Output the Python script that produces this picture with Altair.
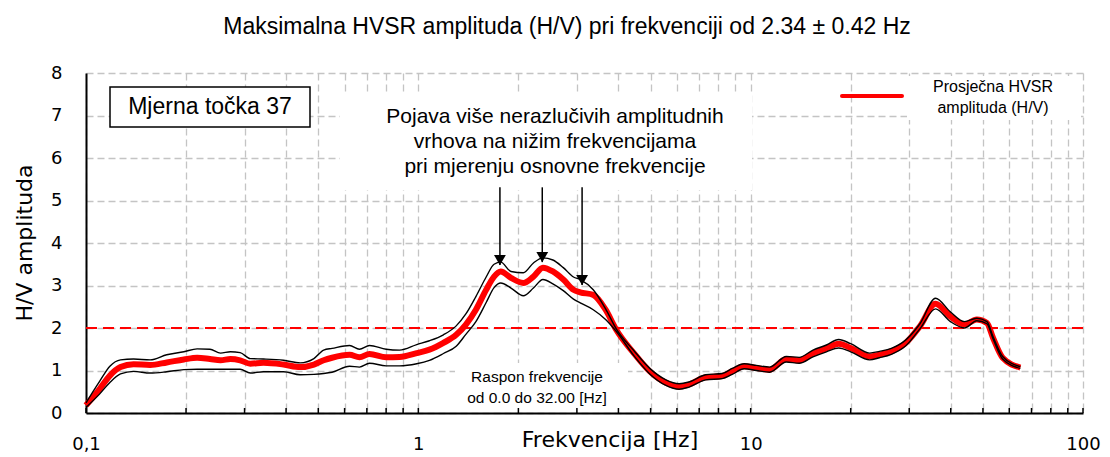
import altair as alt
import pandas as pd

# ---------------- data ----------------
freq = [0.100, 0.110, 0.118, 0.127, 0.139, 0.156, 0.175, 0.197, 0.216, 0.236,
        0.254, 0.272, 0.291, 0.312, 0.342, 0.393, 0.441, 0.485, 0.519, 0.550,
        0.621, 0.665, 0.713, 0.800, 0.878, 0.989, 1.08, 1.19, 1.30, 1.39,
        1.49, 1.60, 1.69, 1.77, 1.90, 2.07, 2.22, 2.37, 2.54, 2.73,
        2.93, 3.07, 3.36, 3.66, 3.94, 4.45, 4.97, 5.56, 6.09, 6.52,
        7.32, 8.21, 8.80, 9.56, 10.4, 11.4, 12.8, 14.0, 15.4, 16.9,
        18.4, 20.0, 22.8, 24.4, 26.5, 29.3, 32.3, 36.0, 39.9, 44.0,
        47.9, 51.4, 53.6, 57.3, 64.8]

mean_hv = [0.18, 0.57, 0.88, 1.08, 1.15, 1.13, 1.19, 1.26, 1.30, 1.27,
           1.24, 1.27, 1.24, 1.16, 1.18, 1.14, 1.08, 1.14, 1.24, 1.30,
           1.37, 1.31, 1.39, 1.31, 1.32, 1.41, 1.49, 1.65, 1.84, 2.08,
           2.43, 2.90, 3.21, 3.33, 3.18, 3.06, 3.21, 3.42, 3.33, 3.14,
           2.90, 2.84, 2.78, 2.43, 1.96, 1.41, 0.98, 0.71, 0.62, 0.67,
           0.84, 0.87, 0.98, 1.10, 1.06, 1.02, 1.27, 1.24, 1.40, 1.52,
           1.63, 1.53, 1.33, 1.37, 1.45, 1.65, 2.04, 2.57, 2.27, 2.08,
           2.20, 2.12, 1.77, 1.30, 1.07]

upper_hv = [0.24, 0.75, 1.10, 1.25, 1.27, 1.25, 1.37, 1.44, 1.51, 1.50,
            1.41, 1.44, 1.42, 1.28, 1.27, 1.24, 1.18, 1.28, 1.48, 1.52,
            1.59, 1.50, 1.59, 1.50, 1.48, 1.61, 1.70, 1.84, 2.05, 2.33,
            2.74, 3.20, 3.50, 3.55, 3.33, 3.30, 3.53, 3.65, 3.60, 3.42,
            3.20, 3.14, 2.90, 2.45, 1.98, 1.47, 1.05, 0.78, 0.69, 0.73,
            0.90, 0.93, 1.05, 1.16, 1.12, 1.08, 1.33, 1.31, 1.48, 1.60,
            1.73, 1.63, 1.41, 1.45, 1.52, 1.72, 2.10, 2.70, 2.38, 2.15,
            2.23, 2.15, 1.80, 1.33, 1.09]

lower_hv = [0.13, 0.45, 0.72, 0.92, 0.98, 0.94, 0.97, 1.02, 1.03, 1.03,
            1.03, 1.03, 1.03, 0.94, 0.97, 0.97, 0.90, 0.91, 0.93, 0.96,
            1.10, 1.08, 1.17, 1.11, 1.11, 1.16, 1.24, 1.40, 1.57, 1.85,
            2.15, 2.60, 2.95, 3.06, 2.94, 2.76, 2.94, 3.14, 3.04, 2.88,
            2.68, 2.59, 2.43, 2.20, 1.92, 1.35, 0.92, 0.65, 0.56, 0.61,
            0.78, 0.81, 0.91, 1.04, 1.00, 0.96, 1.20, 1.17, 1.32, 1.44,
            1.53, 1.44, 1.25, 1.30, 1.38, 1.58, 1.98, 2.45, 2.15, 2.00,
            2.17, 2.10, 1.75, 1.27, 1.05]

grid_freqs = [0.1, 0.2, 0.3, 0.4, 0.5, 0.6, 0.7, 0.8, 0.9,
              1, 2, 3, 4, 5, 6, 7, 8, 9,
              10, 20, 30, 40, 50, 60, 70, 80, 90, 100]
y_ticks = [0, 1, 2, 3, 4, 5, 6, 7, 8]

threshold = [2.0]
arrow_freq = [1.76, 2.36, 3.11]
arrow_tip = [3.48, 3.55, 3.01]
arrow_top = [5.31, 5.31, 5.31]

title_text = "Maksimalna HVSR amplituda (H/V) pri frekvenciji od 2.34 \u00b1 0.42 Hz"
x_title = "Frekvencija [Hz]"
y_title = "H/V amplituda"
box_text = "Mjerna to\u010dka 37"
note_lines = ["Pojava vi\u0161e nerazlu\u010divih amplitudnih",
              "vrhova na ni\u017eim frekvencijama",
              "pri mjerenju osnovne frekvencije"]
range_lines = ["Raspon frekvencije", "od 0.0 do 32.00 [Hz]"]
legend_lines = ["Prosje\u010dna HVSR", "amplituda (H/V)"]

# ---------------- chart ----------------
W, H = 997, 340
ARIAL = "Liberation Sans"
AXF = "DejaVu Sans"

xs = alt.Scale(type="log", domain=[0.1, 100], nice=False)
ys = alt.Scale(domain=[0, 8], nice=False)

x_axis = alt.Axis(values=grid_freqs, grid=True, gridDash=[7, 4], gridColor="#c4c4c4",
                  gridWidth=1.3, ticks=False, domainColor="black", domainWidth=2,
                  labelExpr="datum.value < 0.15 ? '0,1' : (indexof([1, 10, 100], datum.value) >= 0 ? format(datum.value, 'd') : '')",
                  labelFont=AXF, labelFontSize=18, labelColor="black", labelPadding=22,
                  labelFlush=False, labelOverlap=False, title=None)
y_axis = alt.Axis(values=y_ticks, grid=True, gridDash=[7, 4], gridColor="#c4c4c4",
                  gridWidth=1.3, ticks=False, domainColor="black", domainWidth=2,
                  labelFont=AXF, labelFontSize=18, labelColor="black", labelPadding=24,
                  title=None)


def X(field):
    return alt.X(field, type="quantitative", scale=xs, axis=x_axis)


def Y(field):
    return alt.Y(field, type="quantitative", scale=ys, axis=y_axis)


df = pd.DataFrame({"f": freq, "mean": mean_hv, "up": upper_hv, "lo": lower_hv})
one = pd.DataFrame({"a": [0]})


def box(x1, x2, y1, y2, stroke=None, sw=0):
    m = dict(fill="white")
    if stroke:
        m.update(stroke=stroke, strokeWidth=sw)
    else:
        m.update(strokeWidth=0)
    return alt.Chart(one).mark_rect(**m).encode(
        x=alt.value(x1), x2=alt.value(x2), y=alt.value(y1), y2=alt.value(y2))


def label(text, x, y, size, font=ARIAL, angle=0):
    return alt.Chart(one).mark_text(text=text, font=font, fontSize=size, color="black",
                                    align="center", baseline="middle", angle=angle).encode(
        x=alt.value(x), y=alt.value(y))


mean = alt.Chart(df).mark_line(color="#ff0000", strokeWidth=6, interpolate="monotone").encode(
    x=X("f"), y=Y("mean"))
upper = alt.Chart(df).mark_line(color="black", strokeWidth=1.4, interpolate="monotone").encode(
    x=X("f"), y=Y("up"))
lower = alt.Chart(df).mark_line(color="black", strokeWidth=1.4, interpolate="monotone").encode(
    x=X("f"), y=Y("lo"))

thr = alt.Chart(pd.DataFrame({"t": threshold})).mark_rule(
    color="#ff0000", strokeWidth=2, strokeDash=[11, 6]).encode(y=Y("t"))

ticks = alt.Chart(pd.DataFrame({"g": grid_freqs})).mark_rule(
    color="black", strokeWidth=1.5).encode(x=X("g"), y=alt.value(H), y2=alt.value(H - 5))

arr_df = pd.DataFrame({"f": arrow_freq, "tip": arrow_tip, "top": arrow_top})
arrows = alt.Chart(arr_df).mark_rule(color="black", strokeWidth=1.5).encode(
    x=X("f"), y=Y("top"), y2=alt.Y2("tip"))
heads = alt.Chart(arr_df).mark_point(shape="triangle-down", filled=True, color="black",
                                     opacity=1, size=140, yOffset=-5).encode(
    x=X("f"), y=Y("tip"))

legend_line = alt.Chart(one).mark_rule(color="#ff0000", strokeWidth=4, strokeCap="round").encode(
    x=alt.value(756), x2=alt.value(816), y=alt.value(23))

layers = [
    box(254, 666, 20, 117),              # note background
    box(369, 542, 290, 338),             # range background
    box(821, 995, 3, 47),                # legend background
    box(24, 224, 14, 54, "black", 1.5),  # measurement point box
    ticks,
    thr,
    mean, upper, lower,
    arrows, heads,
    legend_line,
    label(legend_lines[0], 907, 14, 16),
    label(legend_lines[1], 907, 35, 16),
    label(box_text, 124, 34, 23),
    label(note_lines[0], 469, 44, 21),
    label(note_lines[1], 469, 69, 21),
    label(note_lines[2], 469, 94, 21),
    label(range_lines[0], 451, 304, 15.5),
    label(range_lines[1], 451, 325, 15.5),
    label(title_text, 481, -46, 23),
    label(x_title, 524, 367, 22, font=AXF),
    label(y_title, -61, 170, 22, font=AXF, angle=270),
]

chart = alt.layer(*layers).properties(
    width=W, height=H,
    autosize=alt.AutoSizeParams(type="none"),
    padding={"left": 78, "top": 65, "right": 19, "bottom": 44},
    background="white",
).configure_view(stroke=None)

chart.save("out.html", embed_options={"renderer": "svg", "actions": False})
